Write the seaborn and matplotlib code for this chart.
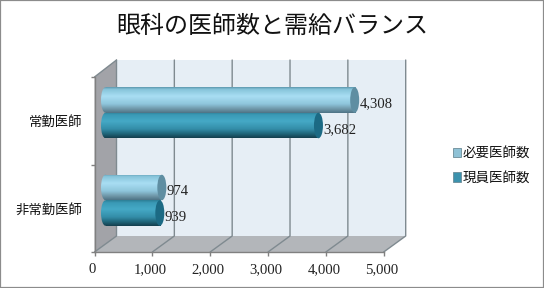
import numpy as np
import pandas as pd
import matplotlib
matplotlib.use('Agg')
import matplotlib.pyplot as plt
import seaborn as sns
from matplotlib.colors import LinearSegmentedColormap
from matplotlib.lines import Line2D
from matplotlib.patches import Ellipse, Polygon, Rectangle
from matplotlib.transforms import ScaledTranslation

categories = ['常勤医師', '非常勤医師']
series_names = ['必要医師数', '現員医師数']
required = [4308, 974]
current = [3682, 939]
x_ticks = [0, 1000, 2000, 3000, 4000, 5000]

W, H = 544, 288
CJK = ['Noto Sans CJK JP', 'DejaVu Sans']
NUM = 'Liberation Serif'

# pixel layout of the fake 3D box
LEFT, RIGHT, TOP, BOTTOM = 94.5, 383.7, 77.0, 252.0
DX, DY = 22.0, 16.0
GRID = '#7f8a90'

sns.set_theme(style='white')
plt.rcParams['font.family'] = CJK


def rect_px(x0, y0, x1, y1):
    return [x0 / W, 1 - y1 / H, (x1 - x0) / W, (y1 - y0) / H]


def pts(*xy):
    return [(x / W, 1 - y / H) for x, y in xy]


fig = plt.figure(figsize=(W / 100, H / 100), dpi=100, facecolor='white')
fig.add_artist(Rectangle((0, 0), 1, 1, transform=fig.transFigure, fill=False,
                         edgecolor='#8c8c8c', linewidth=1.6, zorder=5))

# walls
fig.add_artist(Polygon(pts((LEFT + DX, TOP - DY - 1), (RIGHT + DX, TOP - DY - 1), (RIGHT + DX, BOTTOM - DY), (LEFT + DX, BOTTOM - DY)),
                       transform=fig.transFigure, facecolor='#e6eef5', edgecolor='none', zorder=-3))
fig.add_artist(Polygon(pts((LEFT, TOP), (LEFT + DX, TOP - DY - 1), (LEFT + DX, BOTTOM - DY), (LEFT, BOTTOM)),
                       transform=fig.transFigure, facecolor='#a2a3a8', edgecolor='none', zorder=-3))
fig.add_artist(Polygon(pts((LEFT, BOTTOM), (RIGHT, BOTTOM), (RIGHT + DX, BOTTOM - DY), (LEFT + DX, BOTTOM - DY)),
                       transform=fig.transFigure, facecolor='#b3b6ba', edgecolor='none', zorder=-3))

# gridlines on back wall and floor
step = (RIGHT - LEFT) / (len(x_ticks) - 1)
for i in range(len(x_ticks)):
    x = LEFT + i * step
    xs, ys = zip(*pts((x, BOTTOM), (x + DX, BOTTOM - DY), (x + DX, TOP - DY - 1)))
    fig.add_artist(Line2D(xs, ys, color=GRID, linewidth=1, zorder=-2))
xs, ys = zip(*pts((LEFT, TOP), (LEFT + DX, TOP - DY - 1)))
fig.add_artist(Line2D(xs, ys, color=GRID, linewidth=1, zorder=-2))

# front axes only carries the ticks and labels
ax_front = fig.add_axes(rect_px(LEFT, TOP, RIGHT, BOTTOM), facecolor='none')
ax_front.set_xlim(x_ticks[0], x_ticks[-1])
ax_front.set_ylim(len(categories) - 0.5, -0.5)
ax_front.set_xticks(x_ticks)
ax_front.set_xticklabels([f'{v:,}' for v in x_ticks], fontsize=10.6, family=NUM, color='#222222')
ax_front.set_yticks(np.arange(len(categories) + 1) - 0.5)
ax_front.set_yticklabels([])
ax_front.set_yticks(range(len(categories)), labels=categories, minor=True, fontsize=9.6, color='#111111')
ax_front.tick_params(axis='both', which='major', length=3, width=1, color='#808080', left=True, bottom=True)
ax_front.tick_params(axis='x', pad=5)
ax_front.tick_params(axis='y', which='minor', length=0, pad=9)
shift = ScaledTranslation(-2 / 100, 0, fig.dpi_scale_trans)
for label in ax_front.get_xticklabels():
    label.set_transform(label.get_transform() + shift)
for side in ['top', 'right']:
    ax_front.spines[side].set_visible(False)
for side in ['left', 'bottom']:
    ax_front.spines[side].set_color('#808080')
    ax_front.spines[side].set_linewidth(1)

# bars sit half way into the box
ax = fig.add_axes(rect_px(LEFT + DX / 2, TOP - DY / 2, RIGHT + DX / 2, BOTTOM - DY / 2), facecolor='none')
df = pd.DataFrame({
    'category': categories * 2,
    'series': [series_names[0]] * len(categories) + [series_names[1]] * len(categories),
    'value': required + current,
})
sns.barplot(data=df, y='category', x='value', hue='series', hue_order=series_names, order=categories,
            palette=['#8fc2d6', '#3c92ad'], width=0.583, legend=False, ax=ax)
ax.set_xlim(x_ticks[0], x_ticks[-1])
ax.set_ylim(len(categories) - 0.5, -0.5)
ax.axis('off')

gradients = [
    LinearSegmentedColormap.from_list('light', [(0, '#5f9ab0'), (0.08, '#86c4da'), (0.35, '#a9def3'), (0.65, '#8fc6dc'), (0.85, '#6f97a8'), (1, '#4f7486')]),
    LinearSegmentedColormap.from_list('dark', [(0, '#2d7f97'), (0.1, '#3a9ab6'), (0.35, '#45a9c6'), (0.65, '#348ea9'), (0.85, '#1f6478'), (1, '#143f4e')]),
]
cap_colors = ['#5f8ea2', '#1c6a84']
shade = np.linspace(0, 1, 64).reshape(-1, 1)
cap_width = 9 / step * (x_ticks[1] - x_ticks[0])

for container, cmap, cap in zip(ax.containers, gradients, cap_colors):
    for bar in container:
        x1, y0, h = bar.get_width(), bar.get_y(), bar.get_height()
        yc = y0 + h / 2
        bar.set_facecolor('none')
        bar.set_edgecolor('none')
        body = ax.imshow(shade, cmap=cmap, vmin=0, vmax=1, aspect='auto', origin='upper',
                         extent=(-cap_width, x1, y0 + h, y0), zorder=3)
        body.set_clip_box(fig.bbox)
        body.set_clip_path(bar)
        left_end = Ellipse((0, yc), cap_width, h, transform=ax.transData, facecolor='none', edgecolor='none')
        ax.add_patch(left_end)
        end_img = ax.imshow(shade, cmap=cmap, vmin=0, vmax=1, aspect='auto', origin='upper',
                            extent=(-cap_width, cap_width, y0 + h, y0), zorder=3)
        end_img.set_clip_box(fig.bbox)
        end_img.set_clip_path(left_end)
        ax.add_patch(Ellipse((x1, yc), cap_width, h, facecolor=cap, edgecolor='none', zorder=4, clip_on=False))
        ax.annotate(f'{int(x1):,}', (x1 + cap_width / 2, yc), xytext=(0.3, -3), textcoords='offset points',
                    ha='left', va='center', fontsize=10.6, family=NUM, color='#222222', zorder=5, annotation_clip=False)
ax.set_xlim(x_ticks[0], x_ticks[-1])
ax.set_ylim(len(categories) - 0.5, -0.5)

handles = [Rectangle((0, 0), 1, 1, facecolor=c, edgecolor='#6c8c98', linewidth=0.6) for c in ['#8fc2d6', '#3c92ad']]
fig.legend(handles, series_names, loc='center left', bbox_to_anchor=(453 / W, 1 - 165.5 / H), frameon=False,
           fontsize=9.7, handlelength=0.6, handleheight=0.7, handletextpad=0.12, labelspacing=0.8,
           labelcolor='#111111', borderpad=0, borderaxespad=0)

fig.text(272.5 / W, 1 - 26 / H, '眼科の医師数と需給バランス', ha='center', va='center', fontsize=17.3, color='#111111')

fig.savefig('out.png', dpi=100)
